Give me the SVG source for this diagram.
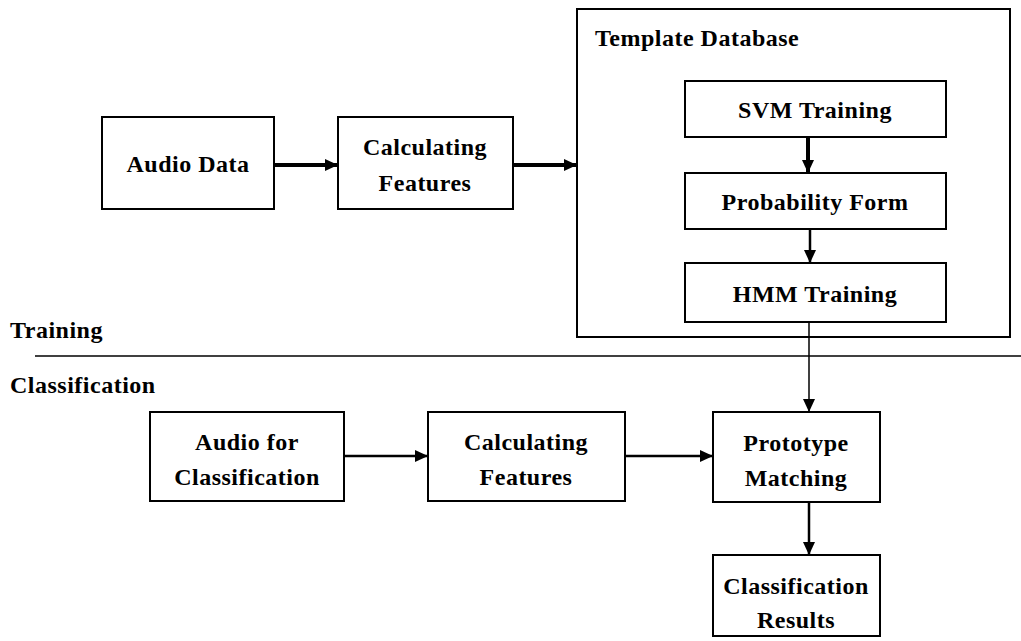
<svg xmlns="http://www.w3.org/2000/svg" width="1021" height="641" viewBox="0 0 1021 641">
  <style>
    .box { fill: #ffffff; stroke: #000000; stroke-width: 2; }
    .lbl { font-family: "Liberation Serif", "Times New Roman", serif; font-weight: bold; font-size: 24px; letter-spacing: 0.5px; fill: #000000; text-anchor: middle; }
    .side { font-family: "Liberation Serif", "Times New Roman", serif; font-weight: bold; font-size: 24px; letter-spacing: 0.5px; fill: #000000; }
    .edge { fill: none; stroke: #000000; }
    .thick { stroke-width: 4; }
    .mid { stroke-width: 2.5; }
    .thin { stroke-width: 1.5; }
  </style>
  <defs>
    <marker id="head" markerUnits="userSpaceOnUse" markerWidth="14" markerHeight="14" viewBox="0 0 14 14" refX="13" refY="7" orient="auto">
      <path d="M0,1 L13,7 L0,13 Z" fill="#000000"/>
    </marker>
  </defs>
  <rect x="0" y="0" width="1021" height="641" fill="#ffffff"/>

  <!-- section labels and divider -->
  <text class="side" x="10" y="338">Training</text>
  <line x1="35" y1="356" x2="1021" y2="356" stroke="#000000" stroke-width="1.5"/>
  <text class="side" x="10" y="393">Classification</text>

  <!-- training pipeline -->
  <g id="audio-data">
    <rect class="box" x="102" y="117" width="172" height="92"/>
    <text class="lbl" x="188" y="172">Audio Data</text>
  </g>
  <g id="calc-features-train">
    <rect class="box" x="338" y="117" width="175" height="92"/>
    <text class="lbl" x="425" y="155">Calculating</text>
    <text class="lbl" x="425" y="191">Features</text>
  </g>
  <g id="template-database">
    <rect class="box" x="577" y="9" width="433" height="328"/>
    <text class="side" x="595" y="46">Template Database</text>
  </g>
  <g id="svm-training">
    <rect class="box" x="685" y="81" width="261" height="56"/>
    <text class="lbl" x="815" y="118">SVM Training</text>
  </g>
  <g id="probability-form">
    <rect class="box" x="685" y="173" width="261" height="56"/>
    <text class="lbl" x="815" y="210">Probability Form</text>
  </g>
  <g id="hmm-training">
    <rect class="box" x="685" y="263" width="261" height="59"/>
    <text class="lbl" x="815" y="302">HMM Training</text>
  </g>

  <!-- classification pipeline -->
  <g id="audio-classification">
    <rect class="box" x="150" y="412" width="194" height="89"/>
    <text class="lbl" x="247" y="450">Audio for</text>
    <text class="lbl" x="247" y="485">Classification</text>
  </g>
  <g id="calc-features-class">
    <rect class="box" x="428" y="412" width="197" height="89"/>
    <text class="lbl" x="526" y="450">Calculating</text>
    <text class="lbl" x="526" y="485">Features</text>
  </g>
  <g id="prototype-matching">
    <rect class="box" x="713" y="412" width="167" height="90"/>
    <text class="lbl" x="796" y="451">Prototype</text>
    <text class="lbl" x="796" y="486">Matching</text>
  </g>
  <g id="classification-results">
    <rect class="box" x="713" y="555" width="167" height="81"/>
    <text class="lbl" x="796" y="594">Classification</text>
    <text class="lbl" x="796" y="628">Results</text>
  </g>

  <!-- connectors -->
  <g id="connectors">
    <line class="edge thick" x1="274" y1="165" x2="338" y2="165" marker-end="url(#head)"/>
    <line class="edge thick" x1="513" y1="165" x2="577" y2="165" marker-end="url(#head)"/>
    <line class="edge thick" x1="808" y1="137" x2="808" y2="173" marker-end="url(#head)"/>
    <line class="edge mid" x1="810" y1="229" x2="810" y2="263" marker-end="url(#head)"/>
    <line class="edge thin" x1="809" y1="322" x2="809" y2="412" marker-end="url(#head)"/>
    <line class="edge mid" x1="344" y1="456" x2="428" y2="456" marker-end="url(#head)"/>
    <line class="edge mid" x1="625" y1="456" x2="713" y2="456" marker-end="url(#head)"/>
    <line class="edge mid" x1="809" y1="502" x2="809" y2="555" marker-end="url(#head)"/>
  </g>
</svg>
